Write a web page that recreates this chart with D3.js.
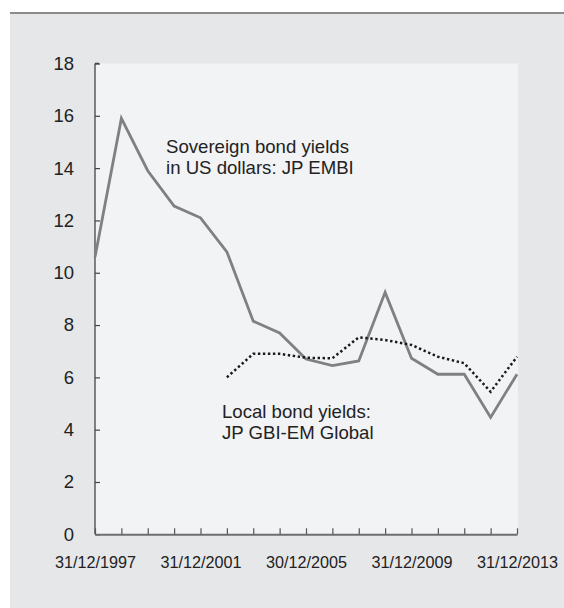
<!DOCTYPE html>
<html><head><meta charset="utf-8">
<script src="https://cdn.jsdelivr.net/npm/d3@7"></script>
<style>
html,body{margin:0;padding:0;background:#fff;}
svg{display:block;font-family:"Liberation Sans",Arial,sans-serif;}
</style></head>
<body>
<svg id="chart" width="564" height="608"></svg>
<script>
const years = ["31/12/1997","31/12/1998","31/12/1999","31/12/2000","31/12/2001","31/12/2002","31/12/2003","31/12/2004","30/12/2005","31/12/2006","31/12/2007","31/12/2008","31/12/2009","31/12/2010","31/12/2011","31/12/2012","31/12/2013"];
const embi = [10.6,15.9,13.9,12.55,12.1,10.8,8.15,7.7,6.7,6.45,6.63,9.25,6.73,6.12,6.12,4.47,6.12];
const gbiem = [null,null,null,null,null,6.0,6.9,6.9,6.75,6.73,7.53,7.43,7.24,6.79,6.54,5.45,6.79];
const xTickLabels = ["31/12/1997","31/12/2001","30/12/2005","31/12/2009","31/12/2013"];
const yTicks = [0,2,4,6,8,10,12,14,16,18];
const labelSovereign = ["Sovereign bond yields","in US dollars: JP EMBI"];
const labelLocal = ["Local bond yields:","JP GBI-EM Global"];

const svg = d3.select("#chart");
// outer panel
svg.append("rect").attr("x",10).attr("y",13).attr("width",554).attr("height",595).attr("fill","#e6e7e9");
svg.append("line").attr("x1",10).attr("x2",564).attr("y1",13).attr("y2",13).attr("stroke","#8c8c8c").attr("stroke-width",2);

const L=95, R=517, T=63.5, B=534.3;
const x = d3.scalePoint().domain(years).range([L,R]);
const y = d3.scaleLinear().domain([0,18]).range([B,T]);

svg.append("rect").attr("x",L).attr("y",T).attr("width",R-L+1).attr("height",B-T).attr("fill","#f2f3f5");

// y axis
const yAxis = svg.append("g").attr("transform",`translate(${L},0)`)
  .call(d3.axisLeft(y).tickValues(yTicks).tickSize(-5).tickPadding(21).tickFormat(d3.format("d")));
yAxis.select(".domain").attr("stroke","#444").attr("stroke-width",1.3).attr("d",`M-0,${T}H4M0,${T}V${B}`);
yAxis.selectAll(".tick line").attr("stroke","#444").attr("stroke-width",1.2);
yAxis.selectAll(".tick text").attr("font-size",18.5).attr("fill","#222").attr("font-family","Liberation Sans, Arial, sans-serif");

// x axis
const xAxis = svg.append("g").attr("transform",`translate(0,${B})`)
  .call(d3.axisBottom(x).tickSize(-6).tickSizeOuter(0).tickPadding(22)
    .tickFormat(d => xTickLabels.includes(d) ? d : ""));
xAxis.select(".domain").attr("stroke","#6e6e6e").attr("stroke-width",2);
xAxis.selectAll(".tick line").attr("stroke","#555").attr("stroke-width",1.2);
xAxis.selectAll(".tick text").attr("font-size",16.2).attr("fill","#222")
  .attr("font-family","Liberation Sans, Arial, sans-serif");
xAxis.selectAll(".tick").each(function(d){
  if(!xTickLabels.includes(d)) d3.select(this).select("text").remove();
});

// lines
const line = d3.line().defined(d=>d[1]!=null).x(d=>x(d[0])).y(d=>y(d[1]));
svg.append("path").datum(years.map((yr,i)=>[yr,embi[i]]))
  .attr("d",line).attr("fill","none").attr("stroke","#808080").attr("stroke-width",2.8).attr("stroke-linejoin","miter");
svg.append("path").datum(years.map((yr,i)=>[yr,gbiem[i]]))
  .attr("d",line).attr("fill","none").attr("stroke","#1a1a1a").attr("stroke-width",2.5).attr("stroke-dasharray","2.4,2.6");

// annotations
const ann1 = svg.append("text").attr("x",166).attr("y",153.3).attr("font-size",18.6).attr("fill","#222");
labelSovereign.forEach((s,i)=>ann1.append("tspan").attr("x",166).attr("dy",i?21:0).text(s));
const ann2 = svg.append("text").attr("x",222).attr("y",418.3).attr("font-size",18.6).attr("fill","#222");
labelLocal.forEach((s,i)=>ann2.append("tspan").attr("x",222).attr("dy",i?21:0).text(s));
</script>
</body></html>
